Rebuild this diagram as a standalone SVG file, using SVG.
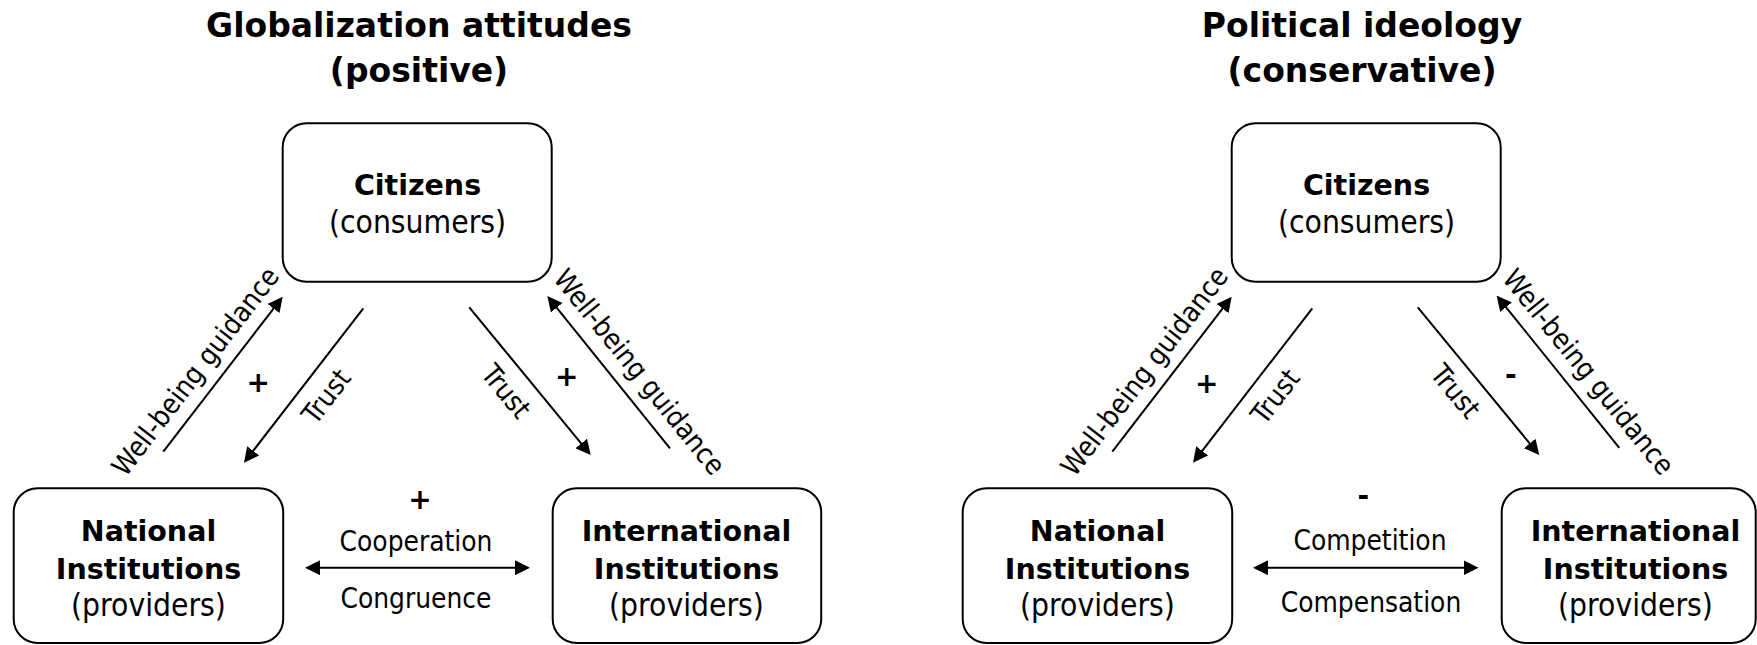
<svg xmlns="http://www.w3.org/2000/svg" width="1757" height="645" viewBox="0 0 1757 645">
<defs>
<style>
.box{fill:#fff;stroke:#000;stroke-width:2}
.t{font-family:"DejaVu Sans",Verdana,sans-serif;fill:#000}
.c{font-family:"DejaVu Sans Condensed","DejaVu Sans",sans-serif;font-stretch:condensed;fill:#000}
.title{font-size:33px;font-weight:bold;text-anchor:middle}
.nb{font-size:28.5px;font-weight:bold;text-anchor:middle}
.nr{font-size:31.5px;text-anchor:middle}
.el{font-size:27.8px;text-anchor:middle}
.sign{font-size:28px;font-weight:bold;text-anchor:middle}
.conn{stroke:#000;stroke-width:2;fill:none;marker-end:url(#ah)}
.both{marker-start:url(#ah)}
</style>
<marker id="ah" viewBox="0 0 15 15" refX="5" refY="7.5" markerWidth="15" markerHeight="15" markerUnits="userSpaceOnUse" orient="auto-start-reverse">
<path d="M0,0 L15,7.5 L0,15 z" fill="#000"/>
</marker>
</defs>
<rect width="1757" height="645" fill="#fff"/>

<!-- Titles -->
<g id="title-left">
<text class="t title" x="419" y="36.5">Globalization attitudes</text>
<text class="t title" x="419" y="81.5">(positive)</text>
</g>
<g id="title-right">
<text class="t title" x="1362" y="36.5">Political ideology</text>
<text class="t title" x="1362" y="81.5">(conservative)</text>
</g>

<!-- Left panel nodes -->
<g id="citizens-left">
<rect class="box" x="282.7" y="123.3" width="269" height="158.4" rx="24"/>
<text class="t nb" x="417.5" y="195">Citizens</text>
<text class="c nr" x="417.5" y="233">(consumers)</text>
</g>
<g id="national-left">
<rect class="box" x="13.7" y="488.3" width="269.5" height="154.7" rx="24"/>
<text class="t nb" x="148.5" y="541">National</text>
<text class="t nb" x="148.5" y="579">Institutions</text>
<text class="c nr" x="148.5" y="616">(providers)</text>
</g>
<g id="international-left">
<rect class="box" x="552.7" y="488.3" width="268.5" height="154.7" rx="24"/>
<text class="t nb" x="686.5" y="541">International</text>
<text class="t nb" x="686.5" y="579">Institutions</text>
<text class="c nr" x="686.5" y="616">(providers)</text>
</g>

<!-- Right panel nodes -->
<g id="citizens-right">
<rect class="box" x="1231.7" y="123.3" width="269" height="158.4" rx="24"/>
<text class="t nb" x="1366.5" y="195">Citizens</text>
<text class="c nr" x="1366.5" y="233">(consumers)</text>
</g>
<g id="national-right">
<rect class="box" x="962.7" y="488.3" width="269.5" height="154.7" rx="24"/>
<text class="t nb" x="1097.5" y="541">National</text>
<text class="t nb" x="1097.5" y="579">Institutions</text>
<text class="c nr" x="1097.5" y="616">(providers)</text>
</g>
<g id="international-right">
<rect class="box" x="1501.7" y="488.3" width="254" height="154.7" rx="24"/>
<text class="t nb" x="1635.5" y="541">International</text>
<text class="t nb" x="1635.5" y="579">Institutions</text>
<text class="c nr" x="1635.5" y="616">(providers)</text>
</g>

<!-- Connectors -->
<g id="connectors">
<line class="conn" x1="163.3" y1="451.7" x2="276.6" y2="304.6"/>
<line class="conn" x1="363.3" y1="308.3" x2="250.1" y2="454.8"/>
<line class="conn" x1="469.3" y1="307.3" x2="584.4" y2="447.3"/>
<line class="conn" x1="670" y1="448.3" x2="553.6" y2="303.8"/>
<line class="conn both" x1="315" y1="567.7" x2="520" y2="567.7"/>

<line class="conn" x1="1112.3" y1="451.7" x2="1225.6" y2="304.6"/>
<line class="conn" x1="1312.3" y1="308.3" x2="1199.1" y2="454.8"/>
<line class="conn" x1="1417.8" y1="307.3" x2="1532.9" y2="447.3"/>
<line class="conn" x1="1619.3" y1="447.8" x2="1502.9" y2="303.3"/>
<line class="conn both" x1="1263" y1="567.7" x2="1468.5" y2="567.7"/>
</g>

<!-- Connector labels -->
<g id="labels-left">
<text class="c el" transform="translate(195.8,371.7) rotate(-52.4)" y="9">Well-being guidance</text>
<text class="c el" transform="translate(326.7,396.7) rotate(-52.3)" y="9">Trust</text>
<text class="c el" transform="translate(505.7,391.7) rotate(50.6)" y="9">Trust</text>
<text class="c el" transform="translate(639,372.3) rotate(51.1)" y="9">Well-being guidance</text>
<text class="t sign" x="258.3" y="392">+</text>
<text class="t sign" x="566.7" y="386">+</text>
<text class="t sign" x="420" y="508.5">+</text>
<text class="c el" x="416" y="551">Cooperation</text>
<text class="c el" x="416" y="607.5">Congruence</text>
</g>
<g id="labels-right">
<text class="c el" transform="translate(1144.8,371.7) rotate(-52.4)" y="9">Well-being guidance</text>
<text class="c el" transform="translate(1275.7,396.7) rotate(-52.3)" y="9">Trust</text>
<text class="c el" transform="translate(1455,391.7) rotate(50.6)" y="9">Trust</text>
<text class="c el" transform="translate(1588,372.3) rotate(51.1)" y="9">Well-being guidance</text>
<text class="t sign" x="1206.7" y="393">+</text>
<text class="t sign" x="1510.7" y="383.5">-</text>
<text class="t sign" x="1363.3" y="505">-</text>
<text class="c el" x="1370" y="550">Competition</text>
<text class="c el" x="1371" y="611.5">Compensation</text>
</g>
</svg>
